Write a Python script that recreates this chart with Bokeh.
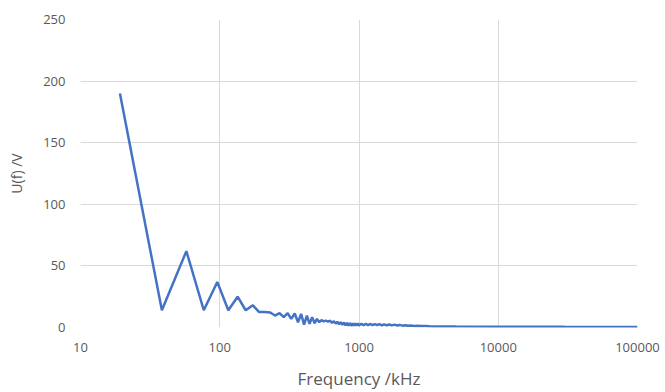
from bokeh.plotting import figure
from bokeh.models import Range1d, FixedTicker, ColumnDataSource
from bokeh.embed import file_html
from bokeh.resources import INLINE

# Data (frequency in kHz, amplitude in V)
freq_khz = [19.2, 38.4, 57.6, 76.8, 96.0, 115.2, 134.4, 153.6, 172.8, 192.0,
            211.2, 230.4, 249.6, 268.8, 288.0, 307.2, 326.4, 345.6, 364.8, 384.0,
            403.2, 422.4, 441.6, 460.8, 480.0, 499.2, 518.4, 537.6, 556.8, 576.0,
            600, 620, 640, 660, 680, 700, 720, 740, 760, 780,
            800, 820, 840, 860, 880, 900, 920, 940, 960, 980,
            1000, 1040, 1080, 1120, 1160, 1200, 1250, 1300, 1350, 1400,
            1460, 1520, 1580, 1650, 1720, 1800, 1880, 1960, 2050, 2150,
            2250, 2350, 2500, 2650, 2800, 3000, 3200, 3500, 5000, 10000,
            30000, 100000]
voltage = [190.0, 14.0, 62.0, 14.0, 37.0, 14.0, 25.0, 14.0, 18.0, 12.5,
           12.5, 12.2, 9.7, 11.6, 8.4, 11.6, 7.0, 11.4, 4.3, 11.0,
           2.4, 9.7, 3.0, 8.4, 3.5, 7.0, 4.3, 6.0, 5.0, 5.6,
           4.8, 5.5, 3.8, 5.0, 3.2, 4.6, 2.6, 4.3, 2.2, 4.0,
           1.8, 3.8, 1.5, 3.6, 1.4, 3.4, 1.5, 3.3, 1.6, 3.2,
           1.7, 3.1, 1.8, 3.0, 1.8, 2.9, 1.9, 2.8, 1.9, 2.7,
           1.8, 2.6, 1.8, 2.4, 1.7, 2.3, 1.6, 2.1, 1.5, 1.9,
           1.4, 1.7, 1.3, 1.5, 1.2, 1.3, 1.0, 0.9, 0.8, 0.7,
           0.6, 0.5]

x_ticks = [10, 100, 1000, 10000, 100000]
x_tick_labels = ["10", "100", "1000", "10000", "100000"]
y_ticks = [0, 50, 100, 150, 200, 250]

x_title = "Frequency /kHz"
y_title = "U(f) /V"

TEXT = "#595959"
GRID = "#d9d9d9"
FONT = "Open Sans"

p = figure(width=665, height=392, x_axis_type="log",
           x_range=Range1d(10, 100000), y_range=Range1d(0, 250),
           output_backend="svg", toolbar_location=None,
           min_border_left=80, min_border_right=28,
           min_border_top=19, min_border_bottom=65)

src = ColumnDataSource(dict(f=freq_khz, u=voltage))
p.line("f", "u", source=src, line_color="#4472C4", line_width=2.5)

p.outline_line_color = None
p.background_fill_color = "white"
p.border_fill_color = "white"

p.xaxis.ticker = FixedTicker(ticks=x_ticks)
p.xaxis.major_label_overrides = {t: l for t, l in zip(x_ticks, x_tick_labels)}
p.yaxis.ticker = FixedTicker(ticks=y_ticks)

for ax in (p.xaxis[0], p.yaxis[0]):
    ax.axis_line_color = None
    ax.major_tick_line_color = None
    ax.minor_tick_line_color = None
    ax.major_tick_out = 0
    ax.major_tick_in = 0
    ax.minor_tick_out = 0
    ax.minor_tick_in = 0
    ax.major_label_text_color = TEXT
    ax.major_label_text_font = FONT
    ax.major_label_text_font_size = "13px"
    ax.axis_label_text_color = TEXT
    ax.axis_label_text_font = FONT
    ax.axis_label_text_font_style = "normal"

p.xaxis.axis_label = x_title
p.yaxis.axis_label = y_title
p.xaxis.axis_label_text_font_size = "17px"
p.yaxis.axis_label_text_font_size = "14px"
p.xaxis.major_label_standoff = 15
p.xaxis.axis_label_standoff = 12
p.yaxis.major_label_standoff = 15
p.yaxis.axis_label_standoff = 14

p.xgrid.ticker = FixedTicker(ticks=x_ticks)
p.ygrid.ticker = FixedTicker(ticks=y_ticks)
p.xgrid.grid_line_color = GRID
p.ygrid.grid_line_color = GRID
p.xgrid.grid_line_width = 1
p.ygrid.grid_line_width = 1
p.xgrid.minor_grid_line_color = None

open("out.html", "w").write(file_html(p, INLINE))
